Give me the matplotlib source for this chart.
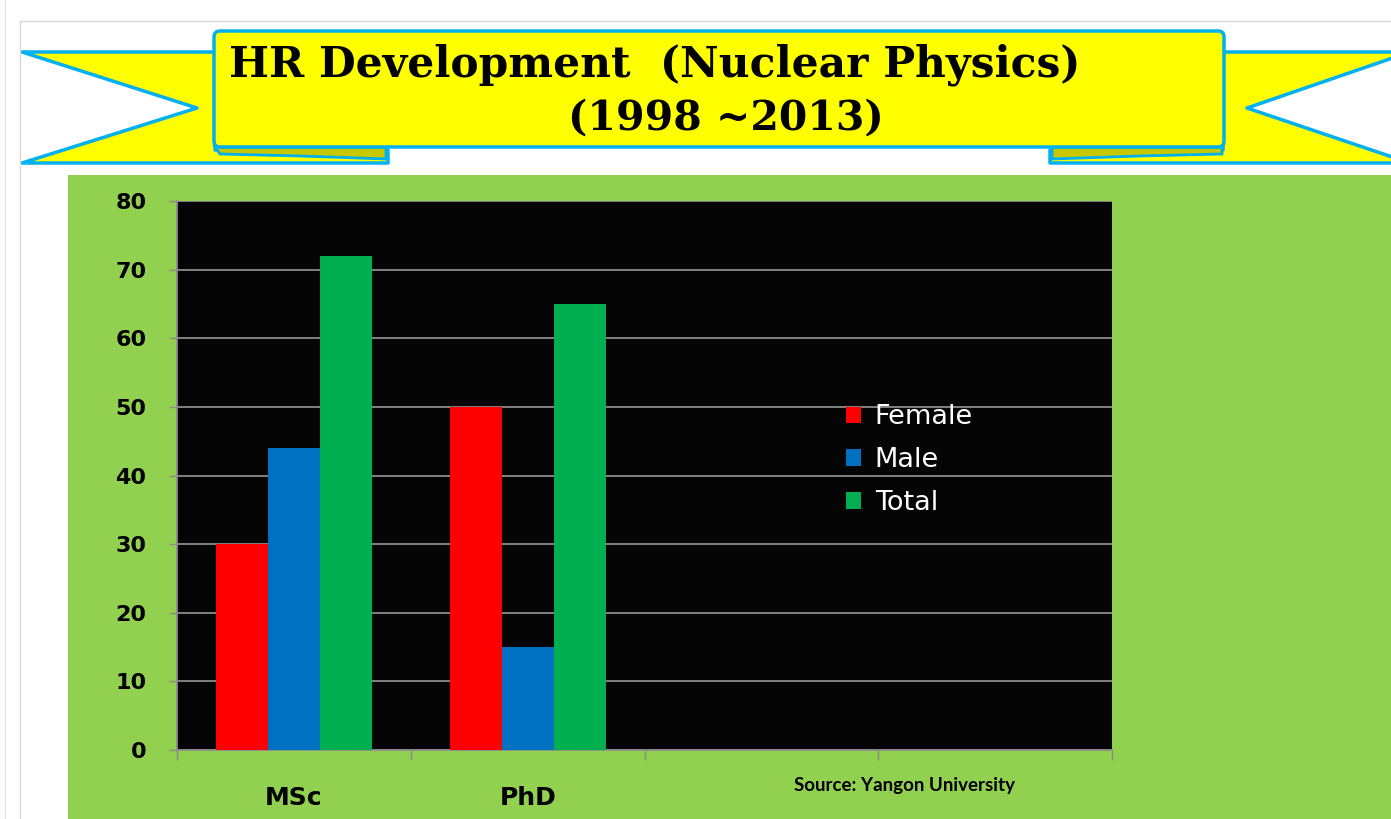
import matplotlib
matplotlib.use("Agg")
import matplotlib.pyplot as plt
from matplotlib.patches import Polygon, Rectangle, FancyBboxPatch
import numpy as np

# ---- data ----
categories = ["MSc", "PhD", "", ""]
series_names = ["Female", "Male", "Total"]
female = [30, 50]
male = [44, 15]
total = [72, 65]
y_ticks = [0, 10, 20, 30, 40, 50, 60, 70, 80]
title_line1 = "HR Development  (Nuclear Physics)"
title_line2 = "(1998 ~2013)"
source_text = "Source: Yangon University"

colors = ["#FF0000", "#0070C0", "#00B050"]
W, H = 1391, 819
fig = plt.figure(figsize=(W / 100, H / 100), dpi=100)
fig.patch.set_facecolor("white")

# background / decoration axes in pixel coords
bg = fig.add_axes([0, 0, 1, 1])
bg.set_xlim(0, W)
bg.set_ylim(H, 0)
bg.axis("off")

# thin frame lines
bg.plot([20, W], [21, 21], color="#d9d9d9", lw=1)
bg.plot([20, 20], [21, H], color="#d9d9d9", lw=1)
bg.plot([5, 5], [0, H], color="#e6e6e6", lw=1)

# green panel
bg.add_patch(Rectangle((68, 175), W - 68, H - 175, facecolor="#92D050", edgecolor="none"))

yellow = "#FFFF00"
dark = "#C8C800"
cyan = "#00B0F0"
# left tail
bg.add_patch(Polygon([(22, 52), (215, 52), (215, 150), (388, 150), (388, 163), (22, 163), (197, 108)],
                     closed=True, facecolor=yellow, edgecolor=cyan, lw=2.5, joinstyle="round"))
# right tail
bg.add_patch(Polygon([(1410, 52), (1223, 52), (1223, 150), (1050, 150), (1050, 163), (1410, 163), (1247, 108)],
                     closed=True, facecolor=yellow, edgecolor=cyan, lw=2.5, joinstyle="round"))
# folds
bg.add_patch(Polygon([(215, 147), (386, 147), (386, 159), (300, 156), (220, 154)],
                     closed=True, facecolor=dark, edgecolor=cyan, lw=2))
bg.add_patch(Polygon([(1052, 147), (1222, 147), (1222, 154), (1140, 156), (1052, 159)],
                     closed=True, facecolor=dark, edgecolor=cyan, lw=2))
# main banner
bg.add_patch(FancyBboxPatch((214, 31), 1224 - 214, 147 - 31,
                            boxstyle="round,pad=0,rounding_size=6",
                            facecolor=yellow, edgecolor=cyan, lw=2.5))
bg.text(655, 77, title_line1, ha="center", va="baseline", fontsize=30.5,
        family="DejaVu Serif", fontweight="bold", color="black")
bg.text(726, 130, title_line2, ha="center", va="baseline", fontsize=29.5,
        family="DejaVu Serif", fontweight="bold", color="black")

# ---- main chart ----
ax = fig.add_axes([177 / W, (H - 750) / H, (1112 - 177) / W, (750 - 201) / H])
ax.set_facecolor("#050505")
n = len(categories)
bw = 1 / 4.5
series = [female, male, total]
for k, (name, vals) in enumerate(zip(series_names, series)):
    x = np.arange(len(vals)) + (k - 1) * bw
    ax.bar(x, vals, width=bw, color=colors[k], label=name, zorder=3)

ax.set_xlim(-0.5, n - 0.5)
ax.set_ylim(0, 80)
ax.set_yticks(y_ticks)
ax.set_yticklabels([str(v) for v in y_ticks], fontsize=16, fontweight="bold",
                   family="DejaVu Sans", color="black")
ax.yaxis.grid(True, color="#8c8c8c", lw=1.3, zorder=1)
ax.set_axisbelow(True)
ax.tick_params(axis="y", length=6, color="#8c8c8c", pad=16, width=1)

ax.set_xticks(np.arange(-0.5, n, 1.0))
ax.set_xticklabels([])
ax.set_xticks(np.arange(n), minor=True)
ax.set_xticklabels(categories, minor=True, fontsize=18, fontweight="bold",
                   family="DejaVu Sans", color="black")
ax.tick_params(axis="x", which="major", length=7, color="#8c8c8c", width=1)
ax.tick_params(axis="x", which="minor", length=0, pad=26)

for s in ["top", "right"]:
    ax.spines[s].set_visible(False)
ax.spines["left"].set_color("#8c8c8c")
ax.spines["bottom"].set_color("#8c8c8c")
ax.spines["left"].set_linewidth(1.3)
ax.spines["bottom"].set_linewidth(1.3)

leg = ax.legend(loc="upper left", bbox_to_anchor=((822 - 177) / (1112 - 177), (750 - 380) / (750 - 201)),
                frameon=False, handlelength=0.55, handleheight=0.55,
                labelspacing=0.62, handletextpad=0.5,
                prop={"family": "DejaVu Sans", "size": 19.5})
for t in leg.get_texts():
    t.set_color("white")

bg.text(905, 786, source_text, ha="center", va="center", fontsize=13.5,
        fontweight="bold", family="Lato", color="black")

fig.savefig("out.png", dpi=100, facecolor=fig.get_facecolor())
